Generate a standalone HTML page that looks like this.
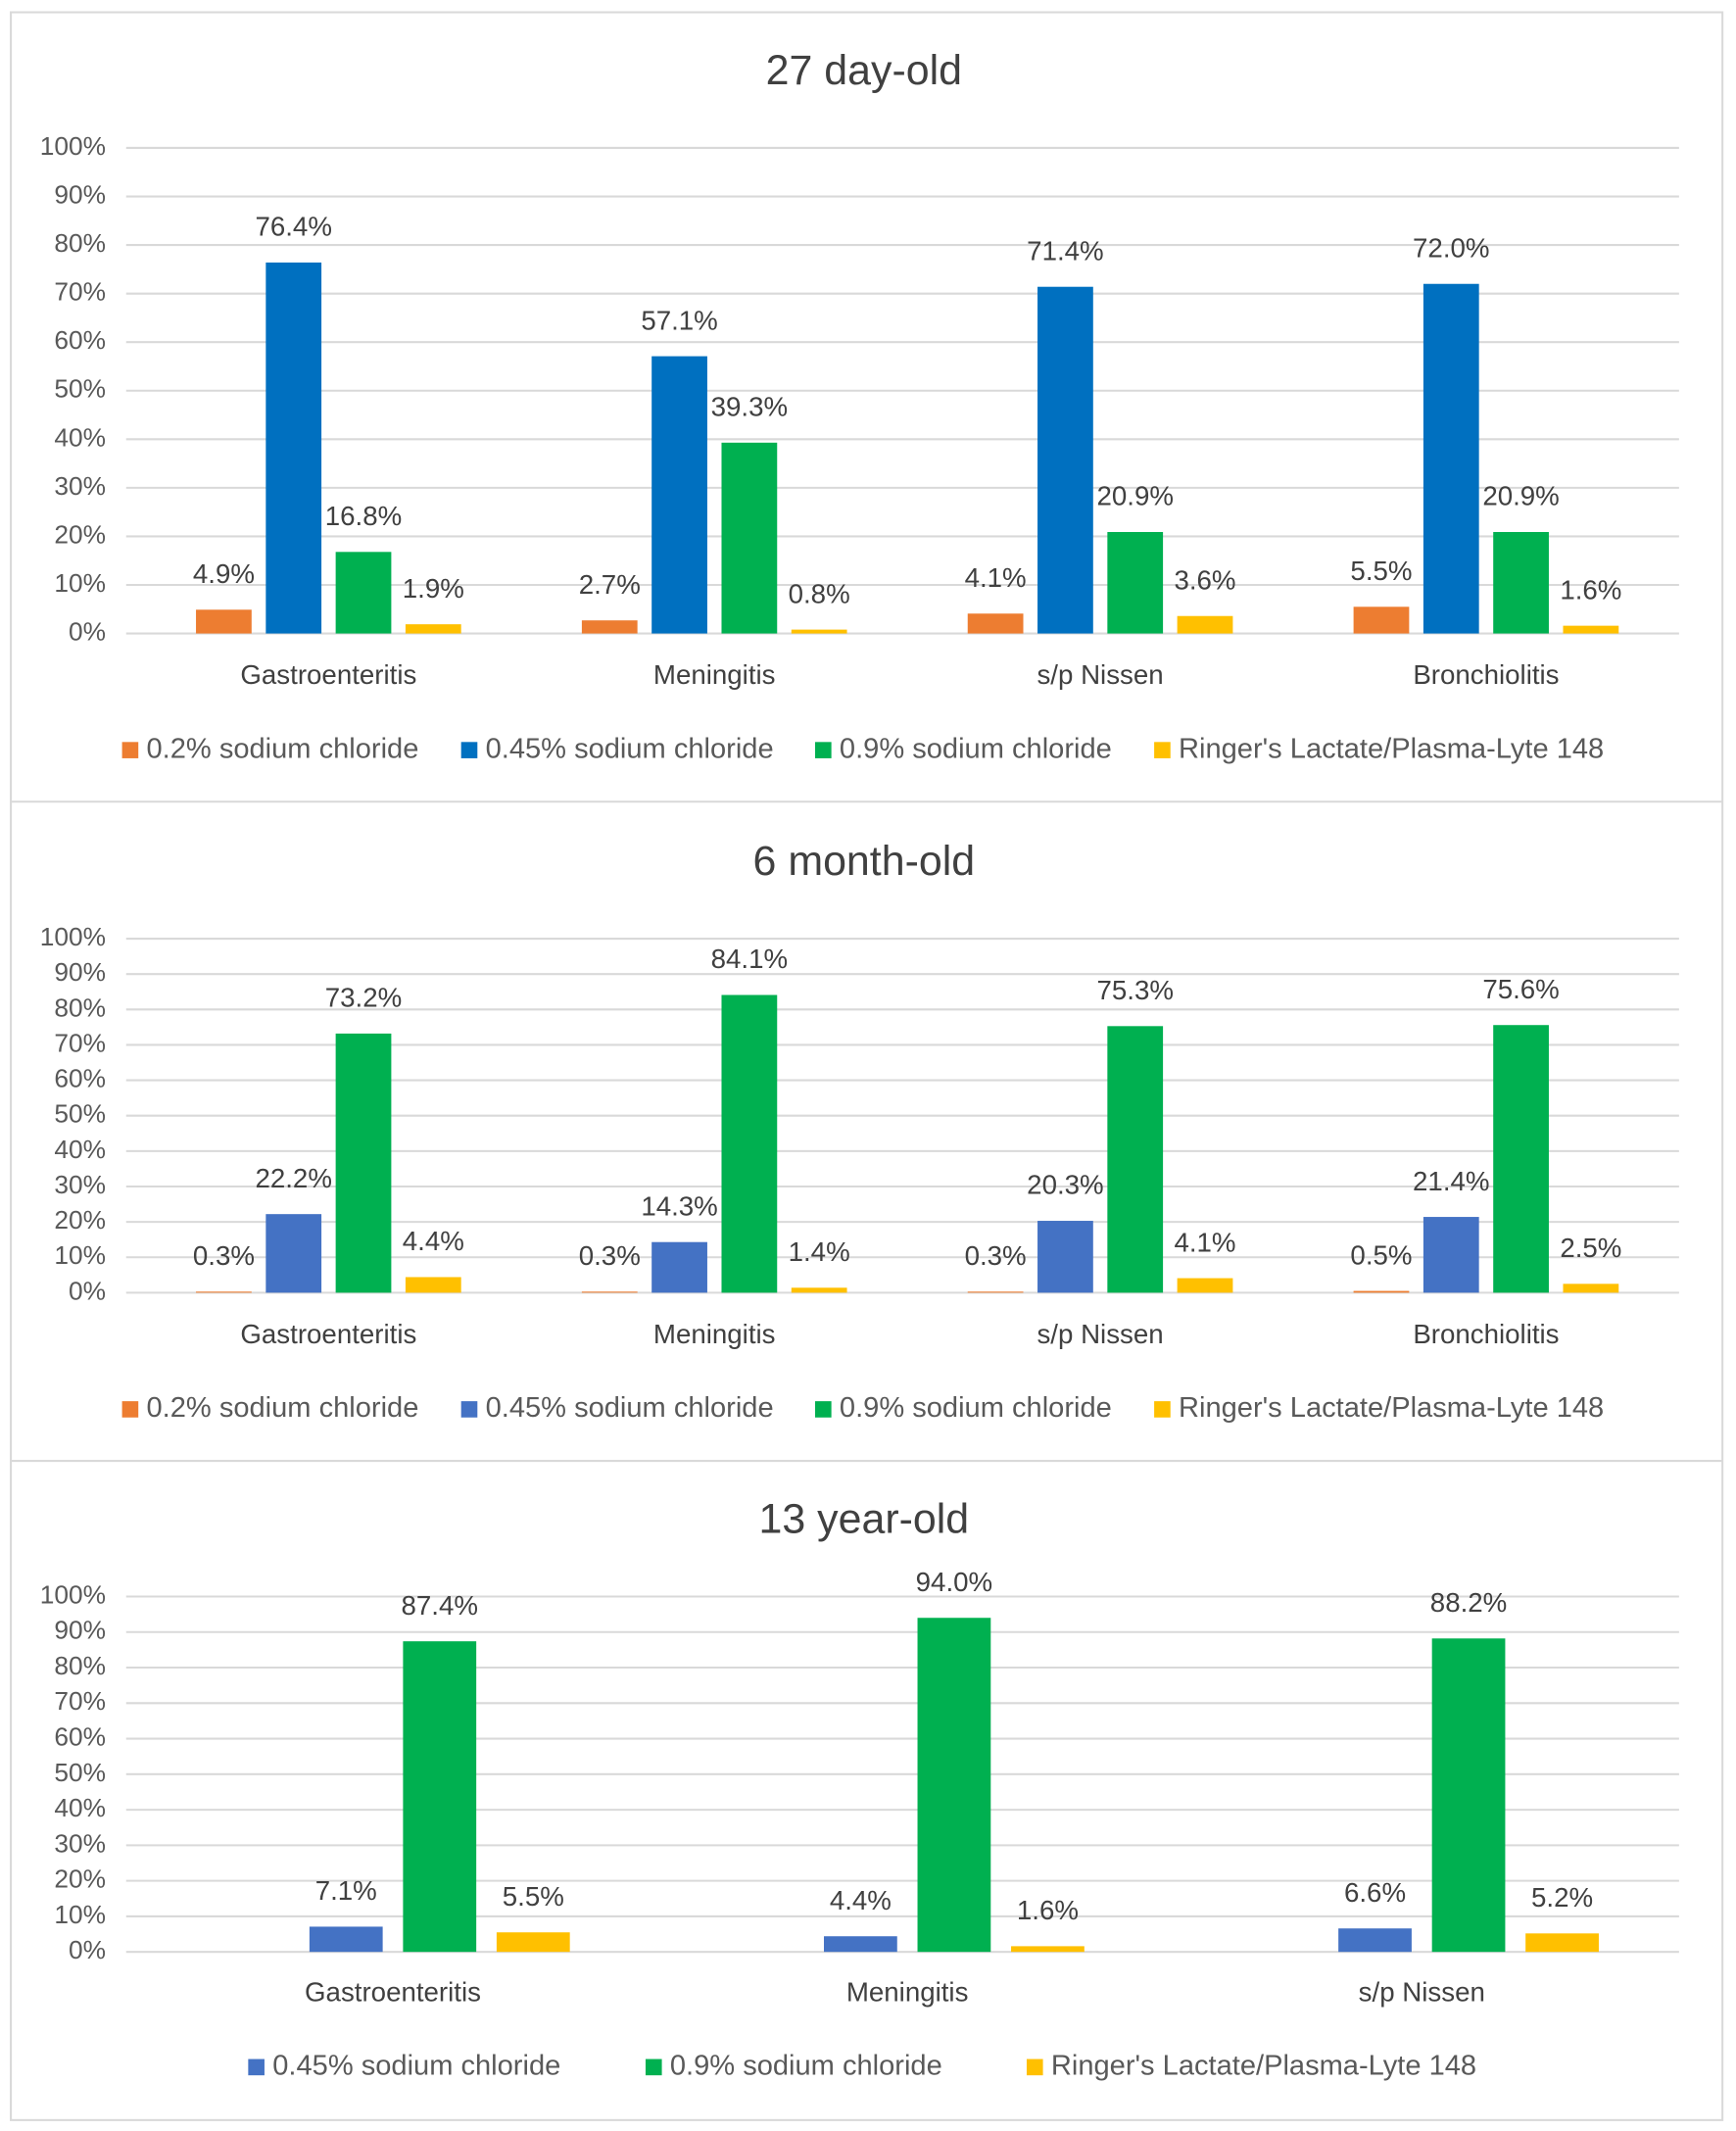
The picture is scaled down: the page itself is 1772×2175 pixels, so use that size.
<!DOCTYPE html>
<html><head><meta charset="utf-8"><style>
html,body{margin:0;padding:0;background:#fff;}
svg{display:block;font-family:"Liberation Sans",sans-serif;}
</style></head><body>
<svg id="chart" width="1772" height="2175" viewBox="0 0 1280 1571" xmlns="http://www.w3.org/2000/svg">
<rect x="8" y="9" width="1262" height="1554" fill="#fff" stroke="#d9d9d9" stroke-width="1.5"/>
<line x1="8" y1="591" x2="1270" y2="591" stroke="#d9d9d9" stroke-width="1.5"/>
<line x1="8" y1="1077" x2="1270" y2="1077" stroke="#d9d9d9" stroke-width="1.5"/>
</svg>
<script>
const titles = ["27 day-old","6 month-old","13 year-old"];
const seriesNames = ["0.2% sodium chloride","0.45% sodium chloride","0.9% sodium chloride","Ringer's Lactate/Plasma-Lyte 148"];
const cats1 = ["Gastroenteritis","Meningitis","s/p Nissen","Bronchiolitis"];
const c1s1 = [4.9,2.7,4.1,5.5];
const c1s2 = [76.4,57.1,71.4,72.0];
const c1s3 = [16.8,39.3,20.9,20.9];
const c1s4 = [1.9,0.8,3.6,1.6];
const cats2 = ["Gastroenteritis","Meningitis","s/p Nissen","Bronchiolitis"];
const c2s1 = [0.3,0.3,0.3,0.5];
const c2s2 = [22.2,14.3,20.3,21.4];
const c2s3 = [73.2,84.1,75.3,75.6];
const c2s4 = [4.4,1.4,4.1,2.5];
const cats3 = ["Gastroenteritis","Meningitis","s/p Nissen"];
const c3s2 = [7.1,4.4,6.6];
const c3s3 = [87.4,94.0,88.2];
const c3s4 = [5.5,1.6,5.2];
const yTicks = ["0%","10%","20%","30%","40%","50%","60%","70%","80%","90%","100%"];

const NS="http://www.w3.org/2000/svg";
const svg=document.getElementById('chart');
function mk(tag,attrs,parent){const e=document.createElementNS(NS,tag);for(const k in attrs)e.setAttribute(k,attrs[k]);(parent||svg).appendChild(e);return e;}

function drawChart(cfg){
  const g=mk('g',{});
  
  
  const y=v=>cfg.y0-(v/100)*(cfg.y0-cfg.y100);
  const t=mk('text',{x:637,y:cfg.titleY,'text-anchor':'middle','font-size':31,fill:'#404040','dominant-baseline':'middle'},g);
  t.textContent=cfg.title;
  
  
  yTicks.forEach((lab,i)=>{
    const v=i*10;
    const ln=mk('line',{x1:93,x2:1238,y1:y(v),y2:y(v),stroke:'#d9d9d9','stroke-width':1.5},g);
    
    
    const tx=mk('text',{x:78,y:y(v),'text-anchor':'end','font-size':19,fill:'#595959','dominant-baseline':'middle'},g);
    tx.textContent=lab;
    
    
  });
  const n=cfg.cats.length;
  const cw=(1238-100)/n;
  cfg.cats.forEach((c,ci)=>{
    const cx=100+cw*(ci+0.5);
    const lt=mk('text',{x:cx,y:cfg.catY,'text-anchor':'middle','font-size':20,fill:'#404040','dominant-baseline':'middle'},g);
    lt.textContent=c;
    
    
    const total=4*cfg.bw+3*cfg.gap;
    cfg.series.forEach((s,si)=>{
      if(!s.vals)return;
      const v=s.vals[ci];
      const bx=cx-total/2+si*(cfg.bw+cfg.gap);
      const r=mk('rect',{x:bx,y:y(v),width:cfg.bw,height:cfg.y0-y(v),fill:s.color},g);
      
      
      const dl=mk('text',{x:bx+cfg.bw/2,y:y(v)-25,'text-anchor':'middle','font-size':20,fill:'#404040','dominant-baseline':'middle'},g);
      dl.textContent=v.toFixed(1)+'%';
      
      
    });
  });
  cfg.legend.forEach(l=>{
    const sq=mk('rect',{x:l.x,y:cfg.legY-6,width:12,height:12,fill:l.color},g);
    
    
    const lt=mk('text',{x:l.x+18,y:cfg.legY,'font-size':21,fill:'#595959','dominant-baseline':'middle'},g);
    lt.textContent=l.text;
    
    
  });
}
const OR='#ED7D31',BL1='#0070C0',BL='#4472C4',GR='#00B050',YE='#FFC000';
drawChart({name:'chart-27-day-old',title:titles[0],titleY:54,y100:109,y0:467,catY:499,legY:553,cats:cats1,bw:41,gap:10.5,
  series:[{vals:c1s1,color:OR},{vals:c1s2,color:BL1},{vals:c1s3,color:GR},{vals:c1s4,color:YE}],
  legend:[{x:90,color:OR,text:seriesNames[0]},{x:340,color:BL1,text:seriesNames[1]},{x:601,color:GR,text:seriesNames[2]},{x:851,color:YE,text:seriesNames[3]}]});
drawChart({name:'chart-6-month-old',title:titles[1],titleY:637,y100:692,y0:953,catY:985,legY:1039,cats:cats2,bw:41,gap:10.5,
  series:[{vals:c2s1,color:OR},{vals:c2s2,color:BL},{vals:c2s3,color:GR},{vals:c2s4,color:YE}],
  legend:[{x:90,color:OR,text:seriesNames[0]},{x:340,color:BL,text:seriesNames[1]},{x:601,color:GR,text:seriesNames[2]},{x:851,color:YE,text:seriesNames[3]}]});
drawChart({name:'chart-13-year-old',title:titles[2],titleY:1122,y100:1177,y0:1439,catY:1470,legY:1524,cats:cats3,bw:54,gap:15,
  series:[{vals:null,color:OR},{vals:c3s2,color:BL},{vals:c3s3,color:GR},{vals:c3s4,color:YE}],
  legend:[{x:183,color:BL,text:seriesNames[1]},{x:476,color:GR,text:seriesNames[2]},{x:757,color:YE,text:seriesNames[3]}]});
</script>
</body></html>
